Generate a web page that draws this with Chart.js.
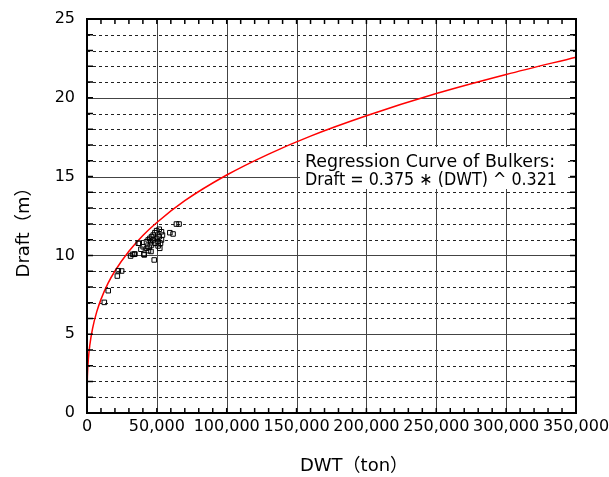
<!DOCTYPE html>
<html>
<head>
<meta charset="utf-8">
<script src="https://cdn.jsdelivr.net/npm/chart.js@4.4.0/dist/chart.umd.min.js"></script>
<style>
  html, body { margin: 0; padding: 0; background: #fff; }
</style>
</head>
<body>
<canvas id="chart" width="609" height="477"></canvas>
<script>
// bulker samples (DWT in ton, draft in m)
const shipDwt = [12400, 15200, 21700, 22400, 24800, 31200, 32600, 33800, 34300, 36700,
  37400, 38600, 40200, 40700, 41000, 42600, 42600, 43800, 44500, 45000,
  45500, 46200, 46200, 47400, 47400, 48100, 48600, 48600, 49800, 49800,
  50900, 50900, 51700, 51700, 52100, 52600, 53300, 53300, 54000, 59300,
  61600, 64000, 65900, 44000, 45800];
const shipDraft = [7.02, 7.76, 8.69, 9.03, 9.01, 9.96, 10.07, 10.07, 10.09, 10.77,
  10.77, 10.39, 10.55, 10.07, 10.03, 10.87, 10.45, 10.98, 10.51, 11.08,
  10.87, 11.19, 10.66, 11.29, 10.98, 9.71, 11.44, 10.77, 11.57, 11.08,
  10.6, 10.87, 11.66, 11.19, 10.45, 10.77, 11.5, 10.98, 11.29, 11.44,
  11.36, 11.99, 11.99, 10.3, 10.25];

// regression curve
const curveDwt = [100, 300, 1000, 2000, 4000, 7000, 10000, 15000, 20000, 30000,
  40000, 50000, 70000, 100000, 130000, 160000, 200000, 250000, 300000, 350000];
const curveDraft = [1.64, 2.34, 3.44, 4.30, 5.37, 6.43, 7.21, 8.22, 9.01, 10.26,
  11.26, 12.09, 13.47, 15.10, 16.43, 17.57, 18.86, 20.27, 21.48, 22.58];

const xTicks = [0, 50000, 100000, 150000, 200000, 250000, 300000, 350000];
const yTicks = [0, 5, 10, 15, 20, 25];

const FONT = '"DejaVu Sans", "Noto Sans CJK JP", sans-serif';

// grid, inner ticks, frame, note box and axis titles
const decor = {
  id: "decor",
  beforeDatasetsDraw(chart) {
    const { ctx, chartArea: a, scales: { x, y } } = chart;
    ctx.save();
    ctx.lineWidth = 1;
    for (let v = 1; v < 25; v++) {
      const py = Math.round(y.getPixelForValue(v)) + 0.5;
      ctx.beginPath();
      if (v % 5) {
        ctx.setLineDash([3, 3]);
        ctx.strokeStyle = "#222";
      } else {
        ctx.setLineDash([]);
        ctx.strokeStyle = "#444";
      }
      ctx.moveTo(a.left, py);
      ctx.lineTo(a.right, py);
      ctx.stroke();
    }
    ctx.setLineDash([]);
    ctx.strokeStyle = "#444";
    xTicks.slice(1, -1).forEach((v) => {
      const px = Math.round(x.getPixelForValue(v)) + 0.5;
      ctx.beginPath();
      ctx.moveTo(px, a.top);
      ctx.lineTo(px, a.bottom);
      ctx.stroke();
    });

    // note
    ctx.fillStyle = "#fff";
    ctx.fillRect(300, 147, 268, 42);
    ctx.fillStyle = "#000";
    ctx.font = "17.5px " + FONT;
    ctx.textBaseline = "alphabetic";
    ctx.fillText("Regression Curve of Bulkers:", 305, 167, 250);
    ctx.fillText("Draft = 0.375 ∗ (DWT) ^ 0.321", 305, 185, 252);
    ctx.restore();
  },
  afterDatasetsDraw(chart) {
    const { ctx, chartArea: a, scales: { x, y } } = chart;
    ctx.save();
    ctx.strokeStyle = "#000";
    ctx.lineWidth = 1.5;
    ctx.beginPath();
    for (let v = 10000; v < 350000; v += 10000) {
      const px = x.getPixelForValue(v);
      ctx.moveTo(px, a.bottom);
      ctx.lineTo(px, a.bottom - 5);
      ctx.moveTo(px, a.top);
      ctx.lineTo(px, a.top + 5);
    }
    for (let v = 1; v < 25; v++) {
      const py = y.getPixelForValue(v);
      ctx.moveTo(a.left, py);
      ctx.lineTo(a.left + 6, py);
      ctx.moveTo(a.right, py);
      ctx.lineTo(a.right - 6, py);
    }
    ctx.stroke();
    ctx.lineWidth = 2;
    ctx.strokeRect(a.left, a.top, a.right - a.left, a.bottom - a.top);
    ctx.restore();
  },
  afterDraw(chart) {
    const { ctx } = chart;
    ctx.save();
    ctx.fillStyle = "#000";
    ctx.font = "18px " + FONT;
    ctx.textAlign = "center";
    ctx.textBaseline = "middle";
    ctx.fillText("DWT（ton）", 354, 466);
    ctx.translate(24, 228);
    ctx.rotate(-Math.PI / 2);
    ctx.fillText("Draft（m）", 0, 0);
    ctx.restore();
  },
};

new Chart(document.getElementById("chart"), {
  data: {
    datasets: [
      {
        type: "scatter",
        data: shipDwt.map((v, i) => ({ x: v, y: shipDraft[i] })),
        pointStyle: "rect",
        pointRadius: 3.2,
        borderColor: "#000",
        borderWidth: 1,
        backgroundColor: "rgba(0,0,0,0)",
        order: 1,
      },
      {
        type: "line",
        data: curveDwt.map((v, i) => ({ x: v, y: curveDraft[i] })),
        borderColor: "#ff0000",
        borderWidth: 1.5,
        pointRadius: 0,
        cubicInterpolationMode: "monotone",
        fill: false,
        order: 2,
      },
    ],
  },
  options: {
    responsive: false,
    animation: false,
    devicePixelRatio: 1,
    layout: { padding: { top: 19, right: 33, left: 0, bottom: 0 } },
    plugins: { legend: { display: false }, tooltip: { enabled: false } },
    scales: {
      x: {
        type: "linear",
        min: 0,
        max: 350000,
        afterBuildTicks: (s) => { s.ticks = xTicks.map((v) => ({ value: v })); },
        afterFit: (s) => {
          s.height = 64;
          s.paddingLeft = 0;
          s.paddingRight = 0;
        },
        grid: { display: false, drawTicks: false },
        border: { display: false },
        ticks: {
          padding: 4,
          color: "#000",
          font: { family: FONT, size: 16 },
          maxRotation: 0,
          autoSkip: false,
          callback: (v) => Number(v).toLocaleString("en-US"),
        },
      },
      y: {
        type: "linear",
        min: 0,
        max: 25,
        afterBuildTicks: (s) => { s.ticks = yTicks.map((v) => ({ value: v })); },
        afterFit: (s) => {
          s.width = 87;
          s.paddingTop = 0;
          s.paddingBottom = 0;
        },
        grid: { display: false, drawTicks: false },
        border: { display: false },
        ticks: {
          padding: 12,
          color: "#000",
          font: { family: FONT, size: 16 },
        },
      },
    },
  },
  plugins: [decor],
});
</script>
</body>
</html>
